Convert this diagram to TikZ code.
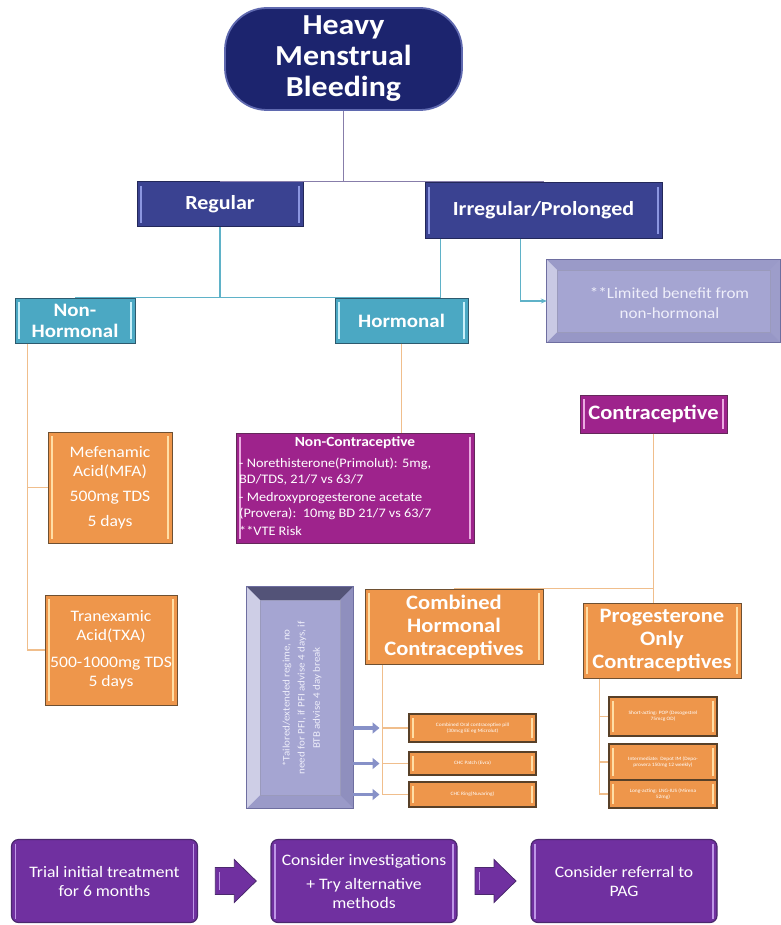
\documentclass[tikz,border=0pt]{standalone}
\usepackage{fontspec}
\setmainfont{Carlito}[FakeStretch=1.1]
\usetikzlibrary{calc,arrows.meta}
\definecolor{navy}{RGB}{28,36,110}
\definecolor{navyedge}{RGB}{95,105,175}
\definecolor{slate}{RGB}{58,66,145}
\definecolor{slatedark}{RGB}{35,40,90}
\definecolor{slatelight}{RGB}{140,150,225}
\definecolor{tealc}{RGB}{75,168,195}
\definecolor{tealdark}{RGB}{45,90,110}
\definecolor{teallight}{RGB}{200,240,250}
\definecolor{tline}{RGB}{95,178,200}
\definecolor{hline}{RGB}{135,125,170}
\definecolor{orng}{RGB}{238,150,75}
\definecolor{orngdark}{RGB}{110,80,50}
\definecolor{orlight}{RGB}{255,222,165}
\definecolor{oline}{RGB}{240,190,140}
\definecolor{mag}{RGB}{158,35,140}
\definecolor{magdark}{RGB}{100,40,90}
\definecolor{maglight}{RGB}{235,170,225}
\definecolor{purp}{RGB}{112,48,160}
\definecolor{purpdark}{RGB}{75,40,110}
\definecolor{purplight}{RGB}{190,150,230}
\definecolor{lavin}{RGB}{165,165,210}
\definecolor{lavedge}{RGB}{110,110,160}
\definecolor{lavtext}{RGB}{238,238,250}
\definecolor{tailarrow}{RGB}{135,145,200}
\newcommand\bevelsides[6]{%
  \fill[#3] (#1.north west) -- (#1.north east) -- ($(#1.north east)+(-#2,#2)$) -- ($(#1.north west)+(#2,#2)$) -- cycle;
  \fill[#4] (#1.north east) -- (#1.south east) -- ($(#1.south east)+(-#2,-#2)$) -- ($(#1.north east)+(-#2,#2)$) -- cycle;
  \fill[#5] (#1.south east) -- (#1.south west) -- ($(#1.south west)+(#2,-#2)$) -- ($(#1.south east)+(-#2,-#2)$) -- cycle;
  \fill[#6] (#1.south west) -- (#1.north west) -- ($(#1.north west)+(#2,#2)$) -- ($(#1.south west)+(#2,-#2)$) -- cycle;
  \draw[lavedge, line width=0.8pt] (#1.north west) rectangle (#1.south east);
  \draw[lavedge!70, line width=0.5pt] ($(#1.north west)+(#2,#2)$) rectangle ($(#1.south east)+(-#2,-#2)$);
}
\newcommand\blockarrow[1]{%
  \filldraw[fill=purp, draw=purpdark, line width=0.8pt]
    ($(#1)+(-20.5,-13.5)$) -- ($(#1)+(-1.5,-13.5)$) -- ($(#1)+(-1.5,-21.5)$) -- ($(#1)+(20.5,0)$)
    -- ($(#1)+(-1.5,21.5)$) -- ($(#1)+(-1.5,13.5)$) -- ($(#1)+(-20.5,13.5)$) -- cycle;
  \draw[purplight, line width=1.2pt] ($(#1)+(-16,-9)$) -- ($(#1)+(-16,9)$);
}
\tikzset{
  edge lines/.style={path picture={
    \draw[#1, line width=1.4pt] ([xshift=4pt,yshift=-4pt]path picture bounding box.north west) -- ([xshift=4pt,yshift=4pt]path picture bounding box.south west);
    \draw[#1, line width=1.4pt] ([xshift=-4pt,yshift=-4pt]path picture bounding box.north east) -- ([xshift=-4pt,yshift=4pt]path picture bounding box.south east);}},
  basebox/.style={rectangle, inner sep=0pt, align=center, text=white},
  hmbbox/.style={basebox, rounded corners=42pt, fill=navy, draw=navyedge, line width=1.8pt,
    font=\fontsize{29}{31}\selectfont\bfseries},
  navybox/.style={basebox, fill=slate, draw=slatedark, line width=1pt, edge lines=slatelight,
    font=\fontsize{20}{22}\selectfont\bfseries},
  tealbox/.style={basebox, fill=tealc, draw=tealdark, line width=1pt, edge lines=teallight,
    font=\fontsize{19}{21}\selectfont\bfseries},
  orbox/.style={basebox, fill=orng, draw=orngdark, line width=1pt, edge lines=orlight,
    font=\fontsize{16}{19}\selectfont},
  orhead/.style={orbox, font=\fontsize{20.5}{23}\selectfont\bfseries},
  smallbox/.style={basebox, fill=orng, draw=orngdark!80!black, line width=1.3pt, edge lines=orlight,
    font=\fontsize{5}{6}\selectfont, minimum width=127pt},
  psmall/.style={smallbox, minimum width=108pt},
  magbox/.style={basebox, fill=mag, draw=magdark, line width=1pt, edge lines=maglight},
  purpbox/.style={basebox, rounded corners=7pt, fill=purp, draw=purpdark, line width=1.2pt,
    edge lines=purplight, minimum width=186pt, minimum height=83pt, font=\fontsize{16}{19}\selectfont},
  hmbl/.style={draw=hline, line width=1.3pt},
  tl/.style={draw=tline, line width=1.3pt},
  ol/.style={draw=oline, line width=1.3pt},
  tailarr/.style={draw=tailarrow, line width=3.5pt, -{Triangle[length=7pt,width=11pt]}},
}
\begin{document}
\begin{tikzpicture}[x=1pt,y=-1pt]
\useasboundingbox (0,0) rectangle (780,925);

% ---------- top level
\node[hmbbox, minimum width=237pt, minimum height=102pt] (hmb) at (343.5,59) {Heavy\\Menstrual\\Bleeding};
\node[navybox, minimum width=166pt, minimum height=45pt] (reg) at (220,204.5) {Regular};
\node[navybox, minimum width=237pt, minimum height=55pt] (irr) at (543.5,210.5) {Irregular/Prolonged};

\draw[hmbl] (hmb.south) -- (hmb.south |- reg.north);
\draw[hmbl] (reg.north) -- (reg.north -| irr.north);

% ---------- second level
\node[tealbox, minimum width=120pt, minimum height=45pt] (nonh) at (75,320.5) {Non-\\Hormonal};
\node[tealbox, minimum width=133pt, minimum height=45pt] (horm) at (401.5,320.5) {Hormonal};

\node[basebox, fill=lavin, minimum width=233pt, minimum height=82pt] (lim) at (663.5,301) {};
\bevelsides{lim}{10}{lavin!80!lavedge}{lavin!85!lavedge}{lavin!75!lavedge}{lavin!60!white}
\node[text=lavtext, align=center, font=\fontsize{15.5}{20}\selectfont] (limt) at ($(lim.center)+(6,2)$) {**Limited benefit from\\non-hormonal};

\coordinate (ia) at ($(irr.south west)+(16,0)$);
\coordinate (ib) at ($(irr.south west)+(96,0)$);
\draw[tl] (reg.south) -- (reg.south |- nonh.north);
\draw[tl] (ia) -- (ia |- nonh.north) -- (nonh.north);
\draw[tl, -{Stealth[length=6pt,width=5pt]}] (ib) |- (lim.west);

% ---------- non-hormonal
\node[orbox, minimum width=124pt, minimum height=111pt] (mfa) at (110,487.5) {Mefenamic\\Acid(MFA)\\[6pt]500mg TDS\\[6pt]5 days};
\node[orbox, minimum width=132pt, minimum height=110pt] (txa) at (111,650) {Tranexamic\\Acid(TXA)\\[8pt]500-1000mg TDS\\5 days};
\coordinate (nh) at ($(nonh.south west)+(13,0)$);
\draw[ol] (nh) -- (nh |- txa.west) -- (txa.west);
\draw[ol] (nh |- mfa.west) -- (mfa.west);

% ---------- hormonal
\node[magbox, minimum width=238pt, minimum height=110pt] (nonc) at (355,488) {};
\node[text=white, font=\fontsize{14}{16}\selectfont\bfseries] (ncti) at (355,443) {Non-Contraceptive};
\node[text=white, align=left, anchor=north west, inner sep=0pt, font=\fontsize{13}{15.5}\selectfont] (ncbody) at (239,458)
  {- Norethisterone(Primolut): 5mg,\\BD/TDS, 21/7 vs 63/7\\[3pt]- Medroxyprogesterone acetate\\(Provera):\ \ 10mg BD 21/7 vs 63/7\\[3pt]**VTE Risk};
\node[magbox, minimum width=147pt, minimum height=38pt, font=\fontsize{20.5}{23}\selectfont\bfseries] (contra) at (653.5,414) {Contraceptive};

\draw[ol] (horm.south) -- (horm.south |- nonc.north);
\draw[ol] ($(horm.south)+(0,49)$) -- ($(horm.south)+(0,49)$ -| contra.west);

\node[orhead, minimum width=178pt, minimum height=75pt] (chc) at (454,626.5) {Combined\\Hormonal\\Contraceptives};
\node[orhead, minimum width=158pt, minimum height=75pt] (poc) at (662,640.5) {Progesterone\\Only\\Contraceptives};
\draw[ol] (contra.south) -- (contra.south |- poc.north);
\draw[ol] (chc.north) -- (chc.north -| contra.south);

% ---------- tailored regime box
\node[basebox, fill=lavin, minimum width=106pt, minimum height=221pt] (tail) at (300,697.5) {};
\bevelsides{tail}{13}{lavedge!75!black}{lavin!60!lavedge}{lavin!80!lavedge}{lavin!55!white}
\node[text=lavtext, align=center, rotate=90, font=\fontsize{10}{15}\selectfont] (tailt) at (302,698)
  {*Tailored/extended regime, no\\need for PFI, if PFI advise 4 days, if\\BTB advise 4 day break};

% ---------- CHC options
\node[smallbox, minimum height=28pt] (coc) at (472.5,728) {Combined Oral contraceptive pill\\(30mcg EE eg Microlut)};
\node[smallbox, minimum height=23pt] (patch) at (472.5,763.5) {CHC Patch (Evra)};
\node[smallbox, minimum height=25pt] (ring) at (472.5,794.5) {CHC Ring(Nuvaring)};
\coordinate (cc) at ($(chc.south west)+(18,0)$);
\draw[ol] (cc) -- (cc |- ring.west) -- (ring.west);
\draw[ol] (cc |- coc.west) -- (coc.west);
\draw[ol] (cc |- patch.west) -- (patch.west);
\draw[tailarr] (tail.east |- coc.west) -- ($(cc |- coc.west)+(-3,0)$);
\draw[tailarr] (tail.east |- patch.west) -- ($(cc |- patch.west)+(-3,0)$);
\draw[tailarr] (tail.east |- ring.west) -- ($(cc |- ring.west)+(-3,0)$);

% ---------- POC options
\node[psmall, minimum height=39pt] (pop) at (663,716.5) {Short-acting: POP (Desogestrel\\75mcg OD)};
\node[psmall, minimum height=36pt] (depot) at (663,762) {Intermediate: Depot IM (Depo-\\provera 150mg 12 weekly)};
\node[psmall, minimum height=28pt] (lng) at (663,794) {Long-acting: LNG-IUS (Mirena\\52mg)};
\coordinate (pc) at ($(poc.south west)+(17,0)$);
\draw[ol] (pc) -- (pc |- lng.west) -- (lng.west);
\draw[ol] (pc |- pop.west) -- (pop.west);
\draw[ol] (pc |- depot.west) -- (depot.west);

% ---------- bottom pathway
\node[purpbox] (b1) at (104.5,881) {Trial initial treatment\\for 6 months};
\node[purpbox] (b2) at (364,881) {Consider investigations\\[5pt]+ Try alternative\\methods};
\node[purpbox] (b3) at (624,881) {Consider referral to\\PAG};
\coordinate (a1) at ($(b1.east)!0.5!(b2.west)+(1.5,0)$);
\coordinate (a2) at ($(b2.east)!0.5!(b3.west)+(1.5,0)$);
\blockarrow{a1}
\blockarrow{a2}
\end{tikzpicture}
\end{document}
